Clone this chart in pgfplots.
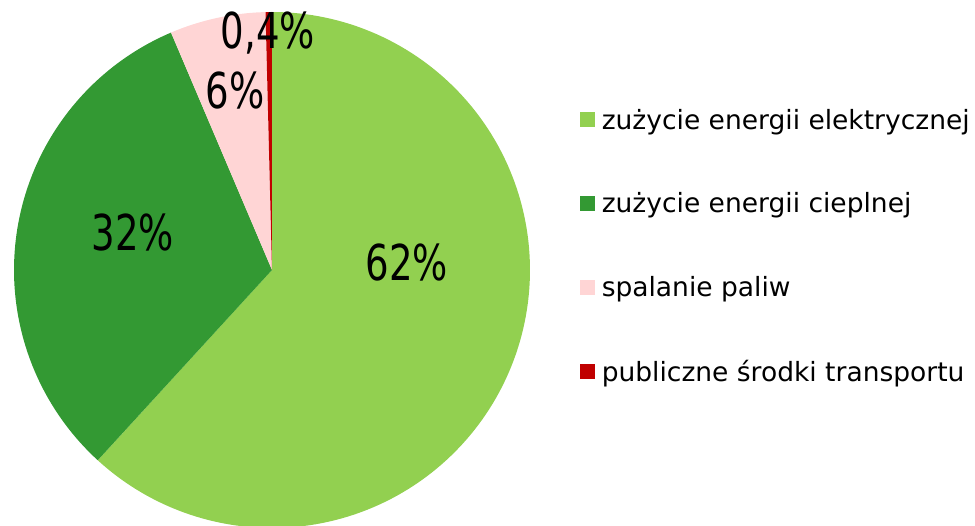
\documentclass[border=0pt]{standalone}
\usepackage{pgfplots}
\pgfplotsset{compat=1.18}
\usepgfplotslibrary{polar}
\usepackage{fontspec}
\setmainfont{DejaVu Sans}
\newfontfamily\labfont[FakeStretch=0.75]{DejaVu Sans}
\definecolor{cA}{HTML}{92D050}
\definecolor{cB}{HTML}{339933}
\definecolor{cC}{HTML}{FFD5D5}
\definecolor{cD}{HTML}{C00000}
\begin{document}
\begin{tikzpicture}[x=1pt,y=1pt]
% shares in percent
\pgfmathsetmacro\pA{61.8}
\pgfmathsetmacro\pB{31.8}
\pgfmathsetmacro\pC{6.0}
\pgfmathsetmacro\pD{0.4}
\pgfmathsetmacro\aA{90}
\pgfmathsetmacro\aB{\aA-3.6*\pA}
\pgfmathsetmacro\aC{\aB-3.6*\pB}
\pgfmathsetmacro\aD{\aC-3.6*\pC}
\pgfmathsetmacro\aE{\aD-3.6*\pD}
\path[use as bounding box] (0,0) rectangle (975,526);
\begin{polaraxis}[
  at={(272pt,256pt)}, anchor=center,
  scale only axis, width=516pt, height=516pt,
  hide axis, xmin=0, xmax=360, ymin=0, ymax=1, clip=false,
  legend image code/.code={\fill[#1] (0pt,-7.5pt) rectangle (15pt,7.5pt);},
  legend style={at={(1.097,0.816)}, anchor=north west, draw=none, fill=none,
    inner sep=0pt, row sep=58pt, font=\fontsize{26.5}{30}\selectfont,
    /tikz/every odd column/.append style={column sep=4.5pt}},
  legend cell align=left,
]
\addplot[fill=cA, draw=none, domain=\aB:\aA, samples=150] {1} -- (axis cs:0,0) -- cycle;
\addlegendentry{zużycie energii elektrycznej}
\addplot[fill=cB, draw=none, domain=\aC:\aB, samples=100] {1} -- (axis cs:0,0) -- cycle;
\addlegendentry{zużycie energii cieplnej}
\addplot[fill=cC, draw=none, domain=\aD:\aC, samples=30] {1} -- (axis cs:0,0) -- cycle;
\addlegendentry{spalanie paliw}
\addplot[fill=cD, draw=none, domain=\aE:\aD, samples=5] {1} -- (axis cs:0,0) -- cycle;
\addlegendentry{publiczne środki transportu}
\end{polaraxis}
\begin{scope}[every node/.style={font=\labfont\fontsize{49.4}{55}\selectfont, inner sep=0pt}]
\node at (407,263) {62\%};
\node at (133,293) {32\%};
\node at (235,435) {6\%};
\node at (268,493) {0,4\%};
\end{scope}
\end{tikzpicture}
\end{document}
